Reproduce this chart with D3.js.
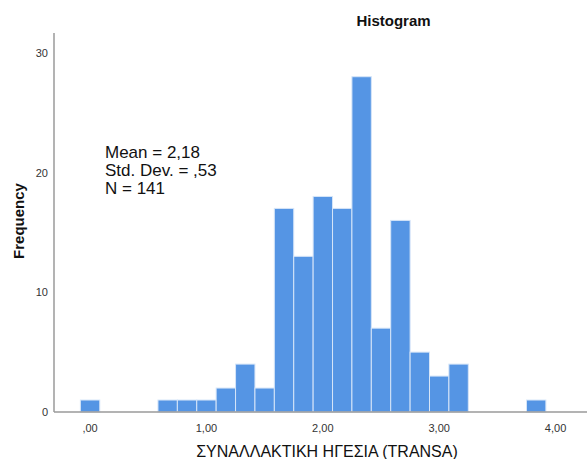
<!DOCTYPE html>
<html><head><meta charset="utf-8">
<script src="https://cdn.jsdelivr.net/npm/d3@7"></script>
<style>body{margin:0;background:#fff}svg{display:block}</style>
</head><body>
<script>
const binStart = -1/12;
const binWidth = 1/6;
const counts = [1,0,0,0,1,1,1,2,4,2,17,13,18,17,28,7,16,5,3,4,0,0,0,1];
const xTicks = [0,1,2,3,4];
const yTicks = [0,10,20,30];
const statLines = ["Mean = 2,18","Std. Dev. = ,53","N = 141"];
const title = "Histogram";
const xTitle = "ΣΥΝΑΛΛΑΚΤΙΚΗ ΗΓΕΣΙΑ (TRANSA)";
const yTitle = "Frequency";

(function(){
const W=587,H=459;
const svg=d3.select("body").append("svg").attr("width",W).attr("height",H);
const pL=54, pR=587, pT=33, pB=412;
const x=d3.scaleLinear().domain([-0.31,4.27]).range([pL,pR]);
const y=d3.scaleLinear().domain([0,31.65]).range([pB,pT]);
const font="'Liberation Sans', Arial, sans-serif";

const bins=counts.map((c,i)=>({x0:binStart+i*binWidth,x1:binStart+(i+1)*binWidth,c}));
svg.append("g").selectAll("rect").data(bins.filter(d=>d.c>0)).join("rect")
  .attr("x",d=>x(d.x0)).attr("width",d=>x(d.x1)-x(d.x0))
  .attr("y",d=>y(d.c)).attr("height",d=>y(0)-y(d.c))
  .attr("fill","#5595e4").attr("stroke","#d6e5f8").attr("stroke-width",1);

svg.append("line").attr("x1",pL).attr("x2",pL).attr("y1",pT).attr("y2",pB).attr("stroke","#9a9a9a").attr("stroke-width",1.5);
svg.append("line").attr("x1",pL).attr("x2",pR).attr("y1",pB).attr("y2",pB).attr("stroke","#9a9a9a").attr("stroke-width",1.5);

const fmt=v=>{const s=d3.format(".2f")(v).replace(".",",");return s.startsWith("0,")?s.slice(1):s;};
svg.append("g").selectAll("text").data(xTicks).join("text")
  .attr("x",d=>x(d)).attr("y",pB+20).attr("text-anchor","middle")
  .attr("font-family",font).attr("font-size",11).attr("fill","#333").text(fmt);
svg.append("g").selectAll("text").data(yTicks).join("text")
  .attr("x",pL-6).attr("y",d=>y(d)+4).attr("text-anchor","end")
  .attr("font-family",font).attr("font-size",11).attr("fill","#333").text(d=>d);

svg.append("text").attr("x",393.5).attr("y",26).attr("text-anchor","middle")
  .attr("font-family",font).attr("font-size",15).attr("font-weight","bold").attr("fill","#111").text(title);
svg.append("text").attr("x",327).attr("y",457).attr("text-anchor","middle")
  .attr("font-family",font).attr("font-size",16).attr("fill","#111").text(xTitle);
svg.append("text").attr("transform","translate(24,221) rotate(-90)").attr("text-anchor","middle")
  .attr("font-family",font).attr("font-size",15).attr("font-weight","bold").attr("fill","#111").text(yTitle);

svg.append("g").selectAll("text").data(statLines).join("text")
  .attr("x",105).attr("y",(d,i)=>158+i*18)
  .attr("font-family",font).attr("font-size",17).attr("fill","#111").text(d=>d);
})();
</script>
</body></html>
